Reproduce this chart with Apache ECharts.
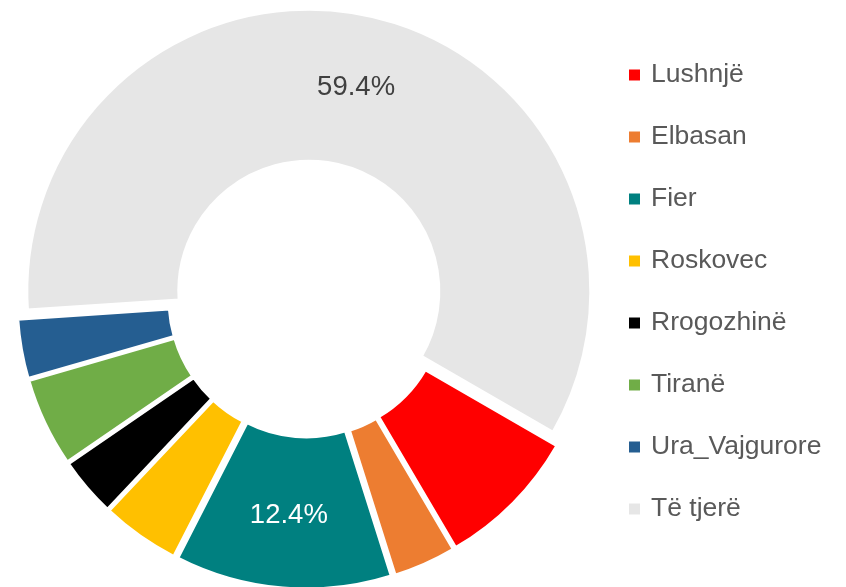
<!DOCTYPE html>
<html>
<head>
<meta charset="utf-8">
<title>Donut</title>
<script src="https://cdn.jsdelivr.net/npm/echarts@6/dist/echarts.min.js"></script>
<style>
  html, body { margin: 0; padding: 0; background: #fff; }
  #main { width: 846px; height: 587px; }
</style>
</head>
<body>
<div id="main"></div>
<script>
// data (shares in %)
var names  = ['Lushnjë', 'Elbasan', 'Fier', 'Roskovec', 'Rrogozhinë', 'Tiranë', 'Ura_Vajgurore', 'Të tjerë'];
var values = [8.2, 3.6, 12.4, 4.5, 3.4, 5.1, 3.4, 59.4];
var colors = ['#FF0000', '#ED7D31', '#008080', '#FFC000', '#000000', '#70AD47', '#255E91', '#E6E6E6'];
var labelColors = ['#fff', '#fff', '#fff', '#fff', '#fff', '#fff', '#fff', '#404040'];

// no narrow font installed, so plain Liberation Sans a bit smaller to keep widths
var font = '"Liberation Sans Narrow", "Arial Narrow", "Liberation Sans", Arial, sans-serif';

var myChart = echarts.init(document.getElementById('main'));

var pieData = names.map(function (n, i) {
    return {
        name: n,
        value: values[i],
        selected: true,
        itemStyle: { color: colors[i] },
        label: {
            show: values[i] > 10,   // only the big slices carry a label
            color: labelColors[i]
        }
    };
});

var option = {
    animation: false,
    color: colors,
    legend: {
        orient: 'vertical',
        left: 627,
        top: 59,
        padding: 0,
        icon: 'rect',
        itemWidth: 13,
        itemHeight: 13,
        itemGap: 30,
        selectedMode: false,
        textStyle: {
            fontFamily: font,
            fontSize: 26.5,
            lineHeight: 32,
            color: '#595959',
            padding: [0, 0, 0, 5]
        },
        data: names
    },
    series: [
        {
            type: 'pie',
            center: [307, 299],
            radius: [130, 282],
            startAngle: -30,
            clockwise: true,
            selectedMode: 'multiple',
            selectedOffset: 8,
            silent: true,
            avoidLabelOverlap: false,
            itemStyle: {
                borderColor: '#fff',
                borderWidth: 3
            },
            select: {
                itemStyle: { borderColor: '#fff', borderWidth: 3 }
            },
            emphasis: { disabled: true },
            label: {
                position: 'inside',
                fontFamily: font,
                fontSize: 27.5,
                formatter: function (p) {
                    return p.value.toFixed(1) + '%';
                }
            },
            labelLine: { show: false },
            data: pieData
        }
    ]
};

myChart.setOption(option);
</script>
</body>
</html>
